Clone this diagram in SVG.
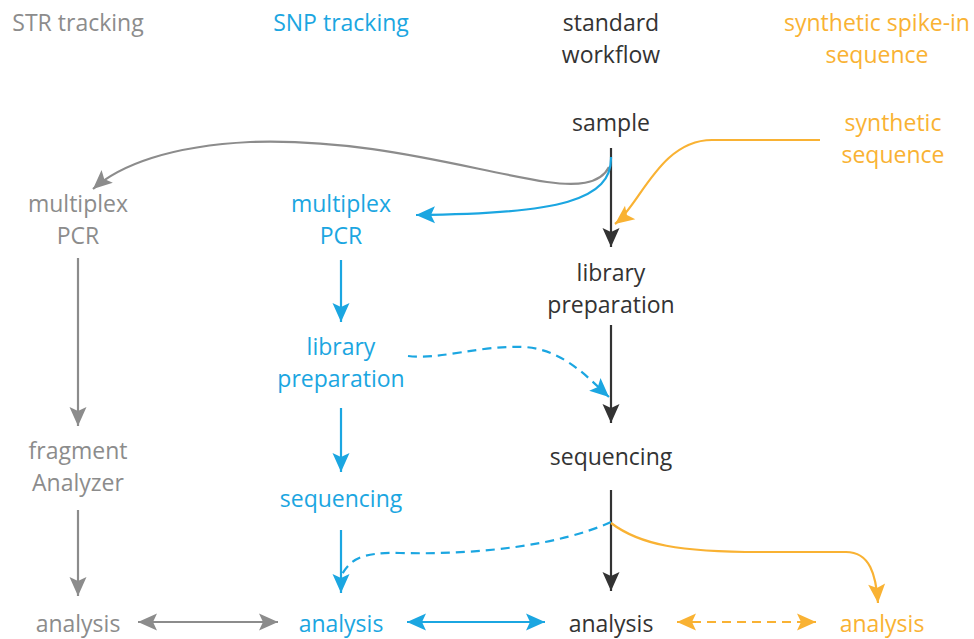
<svg xmlns="http://www.w3.org/2000/svg" width="974" height="639" viewBox="0 0 974 639">
<style>
text{font-family:"Open Sans","Liberation Sans",sans-serif;font-size:23px;text-anchor:middle}
.g{fill:#8c8c8c}.b{fill:#1ba6e1}.k{fill:#333333}.o{fill:#f9b233}
.cg{stroke:#8c8c8c}.cb{stroke:#1ba6e1}.ck{stroke:#333333}.co{stroke:#f9b233}
path.c{fill:none;stroke-width:2.2}
.d{stroke-dasharray:9 6}
</style>
<defs>
<marker id="mg" viewBox="-20 -10 21 20" refX="0" refY="0" markerWidth="21" markerHeight="20" markerUnits="userSpaceOnUse" orient="auto-start-reverse"><path d="M0,0 L-19,-8.5 L-15,0 L-19,8.5 Z" fill="#8c8c8c"/></marker>
<marker id="mb" viewBox="-20 -10 21 20" refX="0" refY="0" markerWidth="21" markerHeight="20" markerUnits="userSpaceOnUse" orient="auto-start-reverse"><path d="M0,0 L-19,-8.5 L-15,0 L-19,8.5 Z" fill="#1ba6e1"/></marker>
<marker id="mk" viewBox="-20 -10 21 20" refX="0" refY="0" markerWidth="21" markerHeight="20" markerUnits="userSpaceOnUse" orient="auto-start-reverse"><path d="M0,0 L-19,-8.5 L-15,0 L-19,8.5 Z" fill="#333333"/></marker>
<marker id="mo" viewBox="-20 -10 21 20" refX="0" refY="0" markerWidth="21" markerHeight="20" markerUnits="userSpaceOnUse" orient="auto-start-reverse"><path d="M0,0 L-19,-8.5 L-15,0 L-19,8.5 Z" fill="#f9b233"/></marker>
</defs>
<g id="headers">
<text class="g" x="78" y="31">STR tracking</text>
<text class="b" x="341" y="31">SNP tracking</text>
<text class="k" x="611" y="31">standard</text>
<text class="k" x="611" y="63">workflow</text>
<text class="o" x="877" y="31">synthetic spike-in</text>
<text class="o" x="877" y="63">sequence</text>
</g>
<g id="sample"><text class="k" x="611" y="131">sample</text></g>
<g id="synthetic"><text class="o" x="893" y="131">synthetic</text><text class="o" x="893" y="163">sequence</text></g>
<g id="str-pcr"><text class="g" x="78" y="212">multiplex</text><text class="g" x="78" y="244">PCR</text></g>
<g id="str-fragment"><text class="g" x="78" y="459">fragment</text><text class="g" x="78" y="491">Analyzer</text></g>
<g id="str-analysis"><text class="g" x="78" y="632">analysis</text></g>
<g id="snp-pcr"><text class="b" x="341" y="212">multiplex</text><text class="b" x="341" y="244">PCR</text></g>
<g id="snp-library"><text class="b" x="341" y="355">library</text><text class="b" x="341" y="387">preparation</text></g>
<g id="snp-sequencing"><text class="b" x="341" y="507">sequencing</text></g>
<g id="snp-analysis"><text class="b" x="341" y="632">analysis</text></g>
<g id="std-library"><text class="k" x="611" y="281">library</text><text class="k" x="611" y="313">preparation</text></g>
<g id="std-sequencing"><text class="k" x="611" y="465">sequencing</text></g>
<g id="std-analysis"><text class="k" x="611" y="632">analysis</text></g>
<g id="syn-analysis"><text class="o" x="882" y="632">analysis</text></g>
<g id="connectors">
<path class="c ck" d="M611,148 V247" marker-end="url(#mk)"/>
<path class="c ck" d="M611,325 V423" marker-end="url(#mk)"/>
<path class="c ck" d="M611,490 V591" marker-end="url(#mk)"/>
<path class="c cg" d="M609,167 C600,185 575,186 547,182 C470,170 370,138 250,142 C170,146 120,165 93,189" marker-end="url(#mg)"/>
<path class="c cb" d="M611,157 C612,200 560,214 416,215" marker-end="url(#mb)"/>
<path class="c co" d="M820,140 H712 C660,140 640,205 615,224" marker-end="url(#mo)"/>
<path class="c cg" d="M78,258 V426" marker-end="url(#mg)"/>
<path class="c cg" d="M78,510 V596" marker-end="url(#mg)"/>
<path class="c cb" d="M341,260 V322" marker-end="url(#mb)"/>
<path class="c cb" d="M341,408 V472" marker-end="url(#mb)"/>
<path class="c cb" d="M341,530 V593" marker-end="url(#mb)"/>
<path class="c cb d" d="M408,356 C440,360 480,345 525,347 C565,350 590,380 609,397" marker-end="url(#mb)"/>
<path class="c cb d" d="M611,522 C560,545 480,555 400,553 C360,552 350,560 341,576"/>
<path class="c co" d="M611,523 C640,545 680,552 760,552 H846 C870,552 876,575 878,603" marker-end="url(#mo)"/>
<path class="c cg" d="M138,622 H278" marker-start="url(#mg)" marker-end="url(#mg)"/>
<path class="c cb" d="M407,622 H545" marker-start="url(#mb)" marker-end="url(#mb)"/>
<path class="c co d" d="M677,622 H816" marker-start="url(#mo)" marker-end="url(#mo)"/>
</g>
</svg>
